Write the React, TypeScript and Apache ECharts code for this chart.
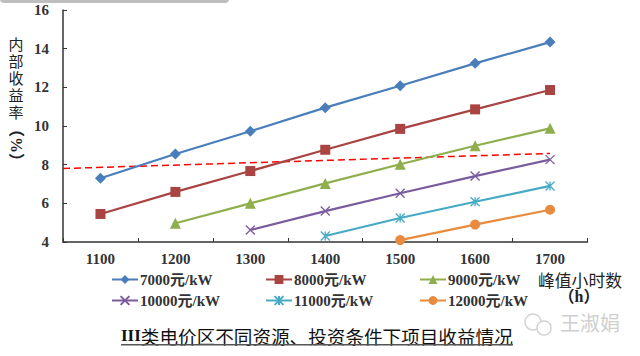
import React, { useEffect, useRef } from "react";
import * as echarts from "echarts";

const categories = ["1100", "1200", "1300", "1400", "1500", "1600", "1700"];
const s7000 = [7.3, 8.55, 9.73, 10.95, 12.08, 13.24, 14.34];
const s8000 = [5.45, 6.59, 7.67, 8.77, 9.85, 10.86, 11.86];
const s9000 = [null, 4.97, 6.0, 7.03, 8.02, 8.98, 9.88];
const s10000 = [null, null, 4.62, 5.6, 6.52, 7.41, 8.26];
const s11000 = [null, null, null, 4.31, 5.24, 6.08, 6.9];
const s12000 = [null, null, null, null, 4.1, 4.9, 5.67];
const redLine = [[1050, 7.8], [1700, 8.58]];

const names = ["7000元/kW", "8000元/kW", "9000元/kW", "10000元/kW", "11000元/kW", "12000元/kW"];
const colors = ["#4A7EBB", "#A94442", "#8FAE4C", "#7A5C9E", "#46AAC4", "#E88B3E"];
const serifFont = '"Liberation Serif", "Noto Sans CJK SC", serif';
const cjkFont = '"Noto Sans CJK SC", "Liberation Serif", serif';

const X_PATH = "path://M0 0L10 10M10 0L0 10";
const STAR_PATH = "path://M0 0L10 10M10 0L0 10M5 0L5 10";

function lineSeries(i: number, data: (number | null)[], symbol: string, size: number, stroked = false) {
  return {
    name: names[i],
    type: "line",
    data,
    symbol,
    symbolSize: size,
    showSymbol: true,
    lineStyle: { color: colors[i], width: 2.2 },
    itemStyle: stroked
      ? { color: "none", borderColor: colors[i], borderWidth: 1.3 }
      : { color: colors[i], borderColor: colors[i], borderWidth: 0 },
    connectNulls: false,
    z: 3,
  };
}

function legendAt(left: number, data: string[]) {
  return {
    left,
    top: 272,
    orient: "vertical",
    itemWidth: 26,
    itemHeight: 11,
    itemGap: 6,
    padding: 0,
    selectedMode: false,
    data,
    textStyle: { fontFamily: serifFont, fontSize: 15, fontWeight: "bold", color: "#333", padding: [0, 0, 0, -3] },
  };
}

export default function App() {
  const ref = useRef<HTMLDivElement>(null);
  useEffect(() => {
    const chart = echarts.init(ref.current!, null, { renderer: "svg" });
    const axisLine = { lineStyle: { color: "#333", width: 1.5 } };
    chart.setOption({
      animation: false,
      backgroundColor: "#fff",
      grid: { left: 63, right: 52.5, top: 10, bottom: 114 },
      legend: [
        legendAt(111, [names[0], names[3]]),
        legendAt(265, [names[1], names[4]]),
        legendAt(419, [names[2], names[5]]),
      ],
      xAxis: [
        {
          type: "category",
          data: categories,
          boundaryGap: true,
          axisLine,
          axisTick: { show: true, inside: true, length: 4, lineStyle: { color: "#333", width: 1 } },
          axisLabel: { interval: 0, margin: 9, fontFamily: serifFont, fontSize: 15, fontWeight: "bold", color: "#333" },
          splitLine: { show: false },
        },
        { type: "value", min: 1050, max: 1750, show: false, splitLine: { show: false } },
      ],
      yAxis: {
        type: "value",
        min: 4,
        max: 16,
        interval: 2,
        axisLine: { show: true, ...axisLine },
        axisTick: { show: true, inside: true, length: 4, lineStyle: { color: "#333", width: 1 } },
        axisLabel: { margin: 14, fontFamily: serifFont, fontSize: 15, fontWeight: "bold", color: "#333" },
        splitLine: { show: false },
      },
      series: [
        lineSeries(0, s7000, "diamond", 11),
        lineSeries(1, s8000, "rect", 10),
        lineSeries(2, s9000, "triangle", 11),
        lineSeries(3, s10000, X_PATH, 9, true),
        lineSeries(4, s11000, STAR_PATH, 9, true),
        lineSeries(5, s12000, "circle", 10),
        {
          name: "基准",
          type: "line",
          xAxisIndex: 1,
          data: redLine,
          symbol: "none",
          lineStyle: { color: "#FF0000", width: 1.5, type: [7, 4] },
          z: 2,
        },
      ],
      graphic: [
        { type: "rect", shape: { x: 0, y: -6, width: 229, height: 9, r: 4 }, style: { fill: "#BEBEBE" } },
        {
          type: "text", x: 16, y: 35,
          style: { text: "内\n部\n收\n益\n率", font: `15px ${cjkFont}`, fill: "#222", align: "center", lineHeight: 17 },
        },
        {
          type: "text", x: 16, y: 145, rotation: -Math.PI / 2,
          style: { text: "（%）", font: `bold 16px ${serifFont}`, fill: "#222", align: "center", verticalAlign: "middle" },
        },
        {
          type: "text", x: 580, y: 272,
          style: { text: "峰值小时数", font: `16.8px ${cjkFont}`, fill: "#222", align: "center" },
        },
        {
          type: "text", x: 579, y: 288,
          style: { text: "（h）", font: `bold 16px ${serifFont}`, fill: "#222", align: "center" },
        },
        {
          type: "text", x: 121, y: 326,
          style: {
            text: "{a|III}{b|类电价区不同资源、投资条件下项目收益情况}",
            rich: {
              a: { font: `bold 17px ${serifFont}`, fill: "#111" },
              b: { font: `18.6px ${cjkFont}`, fill: "#111" },
            },
          },
        },
        { type: "rect", shape: { x: 121, y: 344, width: 392, height: 1.5 }, style: { fill: "#555" } },
        { type: "circle", shape: { cx: 533, cy: 322, r: 8 }, style: { fill: "none", stroke: "#D2D2D2", lineWidth: 1.5 } },
        { type: "circle", shape: { cx: 544, cy: 328, r: 7 }, style: { fill: "#fff", stroke: "#D2D2D2", lineWidth: 1.5 } },
        {
          type: "text", x: 560, y: 312,
          style: { text: "王淑娟", font: `20px ${cjkFont}`, fill: "#CFCFCF" },
        },
      ],
    });
    return () => chart.dispose();
  }, []);
  return <div ref={ref} style={{ position: "fixed", left: 0, top: 0, width: 640, height: 356 }} />;
}
